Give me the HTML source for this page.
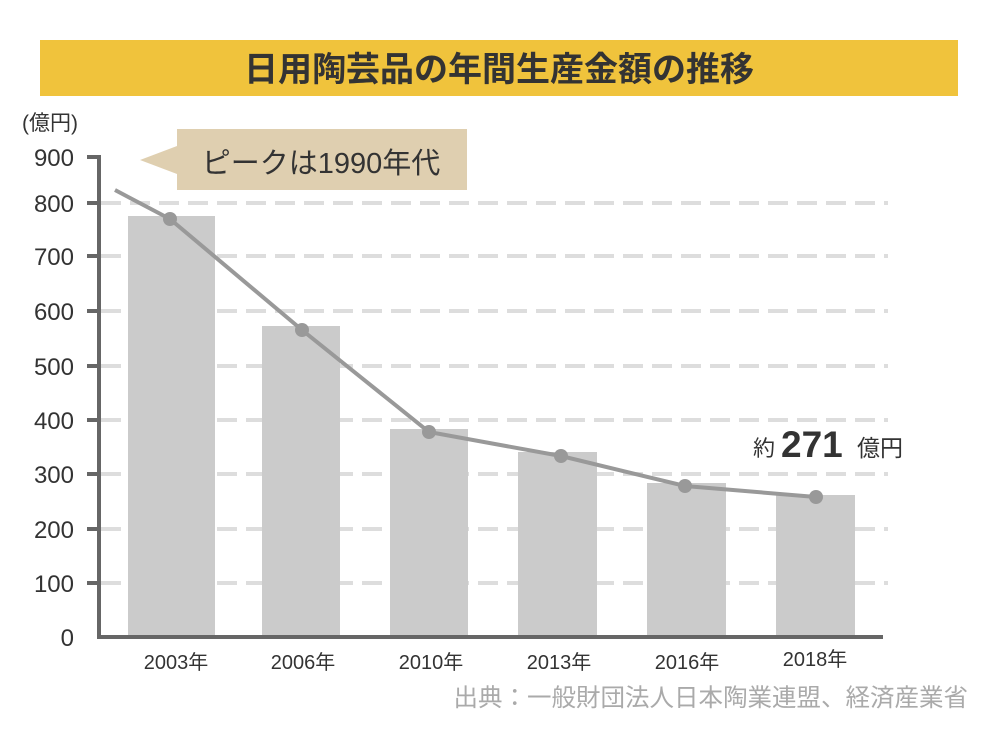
<!DOCTYPE html>
<html><head><meta charset="utf-8"><style>
body{margin:0;background:#fff;}
svg text{font-family:"Liberation Sans","Noto Sans CJK JP",sans-serif;}
</style></head><body>
<svg width="1000" height="738" viewBox="0 0 1000 738" xmlns="http://www.w3.org/2000/svg">
<rect x="40" y="40" width="918" height="56" fill="#f0c33c"/>
<text x="499" y="81" text-anchor="middle" font-size="34" font-weight="bold" fill="#333">日用陶芸品の年間生産金額の推移</text>
<text x="22" y="130" font-size="21" fill="#333">(億円)</text>
<g stroke="#ddd" stroke-width="4" stroke-dasharray="20 9">
<line x1="101" y1="203" x2="888" y2="203"/>
<line x1="101" y1="256" x2="888" y2="256"/>
<line x1="101" y1="311" x2="888" y2="311"/>
<line x1="101" y1="366" x2="888" y2="366"/>
<line x1="101" y1="420" x2="888" y2="420"/>
<line x1="101" y1="474" x2="888" y2="474"/>
<line x1="101" y1="529" x2="888" y2="529"/>
<line x1="101" y1="583" x2="888" y2="583"/>
</g>
<g fill="#cbcbcb">
<rect x="128" y="216" width="87" height="421"/>
<rect x="262" y="326" width="78" height="311"/>
<rect x="390" y="429" width="78" height="208"/>
<rect x="518" y="452" width="79" height="185"/>
<rect x="647" y="483" width="79" height="154"/>
<rect x="776" y="495" width="79" height="142"/>
</g>
<g stroke="#666" stroke-width="4">
<line x1="99" y1="155" x2="99" y2="639"/>
<line x1="97" y1="637" x2="883" y2="637"/>
<line x1="87" y1="157" x2="99" y2="157"/>
<line x1="87" y1="203" x2="99" y2="203"/>
<line x1="87" y1="256" x2="99" y2="256"/>
<line x1="87" y1="311" x2="99" y2="311"/>
<line x1="87" y1="366" x2="99" y2="366"/>
<line x1="87" y1="420" x2="99" y2="420"/>
<line x1="87" y1="474" x2="99" y2="474"/>
<line x1="87" y1="529" x2="99" y2="529"/>
<line x1="87" y1="583" x2="99" y2="583"/>
</g>
<g font-size="24" fill="#333" text-anchor="end">
<text x="74" y="166">900</text>
<text x="74" y="212">800</text>
<text x="74" y="265">700</text>
<text x="74" y="320">600</text>
<text x="74" y="375">500</text>
<text x="74" y="429">400</text>
<text x="74" y="483">300</text>
<text x="74" y="538">200</text>
<text x="74" y="592">100</text>
<text x="74" y="646">0</text>
</g>
<polyline points="115,190 170,219 302,330 429,432 561,456 685,486 816,497" fill="none" stroke="#999" stroke-width="4"/>
<g fill="#999">
<circle cx="170" cy="219" r="7"/><circle cx="302" cy="330" r="7"/><circle cx="429" cy="432" r="7"/>
<circle cx="561" cy="456" r="7"/><circle cx="685" cy="486" r="7"/><circle cx="816" cy="497" r="7"/>
</g>
<rect x="177" y="129" width="290" height="61" fill="#dfcfb0"/>
<polygon points="140,160 177,146 177,174" fill="#dfcfb0"/>
<text x="321" y="173" text-anchor="middle" font-size="29" fill="#333">ピークは1990年代</text>
<g font-size="20" fill="#333" text-anchor="middle">
<text x="176" y="669">2003年</text>
<text x="303" y="669">2006年</text>
<text x="431" y="669">2010年</text>
<text x="559" y="669">2013年</text>
<text x="687" y="669">2016年</text>
<text x="815" y="666">2018年</text>
</g>
<text x="753" y="456" font-size="22" fill="#333">約</text>
<text x="781" y="457" font-size="37" font-weight="bold" fill="#333">271</text>
<text x="857" y="456" font-size="23" fill="#333">億円</text>
<text x="968" y="706" text-anchor="end" font-size="24.5" fill="#aaa">出典：一般財団法人日本陶業連盟、経済産業省</text>
</svg>
</body></html>
